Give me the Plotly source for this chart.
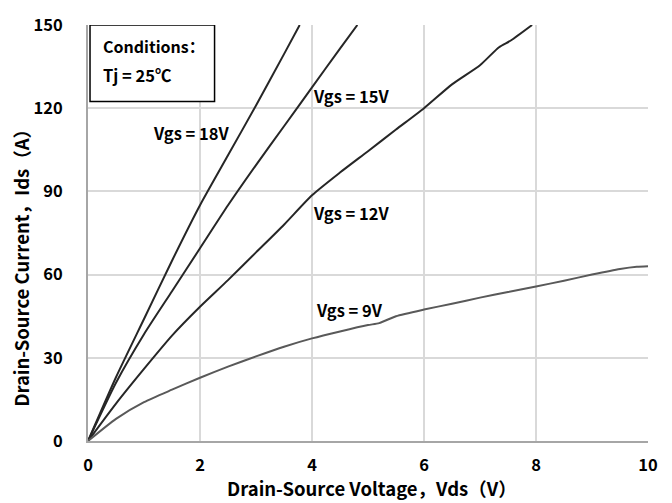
import plotly.graph_objects as go

# Data
vds_18 = [0, 0.5, 1.0, 1.5, 2.0, 2.5, 3.0, 3.5, 3.78]
ids_18 = [0, 23, 44, 65, 85, 103, 121, 139.5, 150]

vds_15 = [0, 0.5, 1.0, 1.5, 2.0, 2.5, 3.0, 3.5, 4.0, 4.5, 4.81]
ids_15 = [0, 21, 38.5, 54, 69.5, 85, 99.5, 113.5, 127.5, 141.5, 150]

vds_12 = [0, 0.5, 1.0, 1.5, 2.0, 2.5, 3.0, 3.5, 4.0, 4.5, 5.0, 5.5, 6.0, 6.5, 7.0, 7.34, 7.55, 7.93]
ids_12 = [0, 13.5, 26, 38, 48.4, 58, 68, 78, 88.6, 96.8, 104.5, 112.3, 120, 128.6, 135.5, 142, 144.4, 150]

vds_9 = [0, 0.5, 1.0, 1.5, 2.0, 2.5, 3.0, 3.5, 4.0, 4.5, 5.0, 5.2, 5.5, 6.0, 6.5, 7.0, 7.5, 8.0, 8.5, 9.0, 9.5, 9.8, 10.0]
ids_9 = [0, 8, 14, 18.5, 22.8, 26.8, 30.5, 34, 37, 39.5, 41.8, 42.5, 45, 47.4, 49.5, 51.7, 53.7, 55.7, 57.8, 60, 62, 62.8, 63]

series = [
    ("Vgs = 18V", vds_18, ids_18, "#262626"),
    ("Vgs = 15V", vds_15, ids_15, "#262626"),
    ("Vgs = 12V", vds_12, ids_12, "#262626"),
    ("Vgs = 9V", vds_9, ids_9, "#595959"),
]

label_text = ["Vgs = 18V", "Vgs = 15V", "Vgs = 12V", "Vgs = 9V"]
label_x = [1.85, 4.71, 4.71, 4.67]
label_y = [111, 124.3, 82.2, 47.1]

x_ticks = [0, 2, 4, 6, 8, 10]
y_ticks = [0, 30, 60, 90, 120, 150]

x_title = "Drain-Source Voltage，Vds（V）"
y_title = "Drain-Source Current，Ids（A）"

FONT = "Noto Sans CJK SC"

fig = go.Figure()
for name, x, y, c in series:
    fig.add_trace(go.Scatter(x=x, y=y, mode="lines", name=name,
                             line=dict(color=c, width=2, shape="spline", smoothing=0.6),
                             showlegend=False, hoverinfo="skip"))

for t, x, y in zip(label_text, label_x, label_y):
    fig.add_annotation(x=x, y=y, text="<b>" + t + "</b>", showarrow=False,
                       font=dict(family=FONT, size=16.5, color="black"),
                       xanchor="center", yanchor="middle")

# Conditions box
fig.add_shape(type="rect", xref="x", yref="y", x0=0.036, x1=2.26, y0=122.4, y1=150,
              line=dict(color="black", width=1.5), fillcolor="white", layer="above")
fig.add_annotation(x=0.24, y=142.6, text="<b>Conditions：</b>", showarrow=False,
                   xanchor="left", yanchor="middle",
                   font=dict(family=FONT, size=16, color="black"))
fig.add_annotation(x=0.24, y=132, text="<b>Tj = 25℃</b>", showarrow=False,
                   xanchor="left", yanchor="middle",
                   font=dict(family=FONT, size=16.5, color="black"))

# Axis titles as annotations for precise placement
fig.add_annotation(xref="paper", yref="paper", x=0.507, y=-0.1124,
                   text="<b>" + x_title + "</b>", showarrow=False,
                   xanchor="center", yanchor="middle",
                   font=dict(family=FONT, size=18.5, color="black"))
fig.add_annotation(xref="paper", yref="paper", x=-0.1196, y=0.426,
                   text="<b>" + y_title + "</b>", showarrow=False, textangle=-90,
                   xanchor="center", yanchor="middle",
                   font=dict(family=FONT, size=18.5, color="black"))

fig.update_layout(
    width=672, height=503,
    margin=dict(l=88, r=24, t=14, b=62),
    paper_bgcolor="white", plot_bgcolor="white",
    font=dict(family=FONT, size=16, color="black"),
)
fig.update_xaxes(
    range=[0, 10], tickvals=x_ticks, ticktext=["<b>%d</b>" % v for v in x_ticks],
    showgrid=True, gridcolor="#d9d9d9", gridwidth=2,
    showline=True, linecolor="#a6a6a6", linewidth=2, zeroline=False,
    ticks="", ticklabelstandoff=8, tickfont=dict(family=FONT, size=16.5, color="black"),
)
fig.update_yaxes(
    range=[0, 150], tickvals=y_ticks, ticktext=["<b>%d</b>" % v for v in y_ticks],
    showgrid=True, gridcolor="#d9d9d9", gridwidth=2,
    showline=True, linecolor="#a6a6a6", linewidth=2, zeroline=False,
    ticks="", ticklabelstandoff=20, tickfont=dict(family=FONT, size=16.5, color="black"),
)

fig.write_html("out.html")
